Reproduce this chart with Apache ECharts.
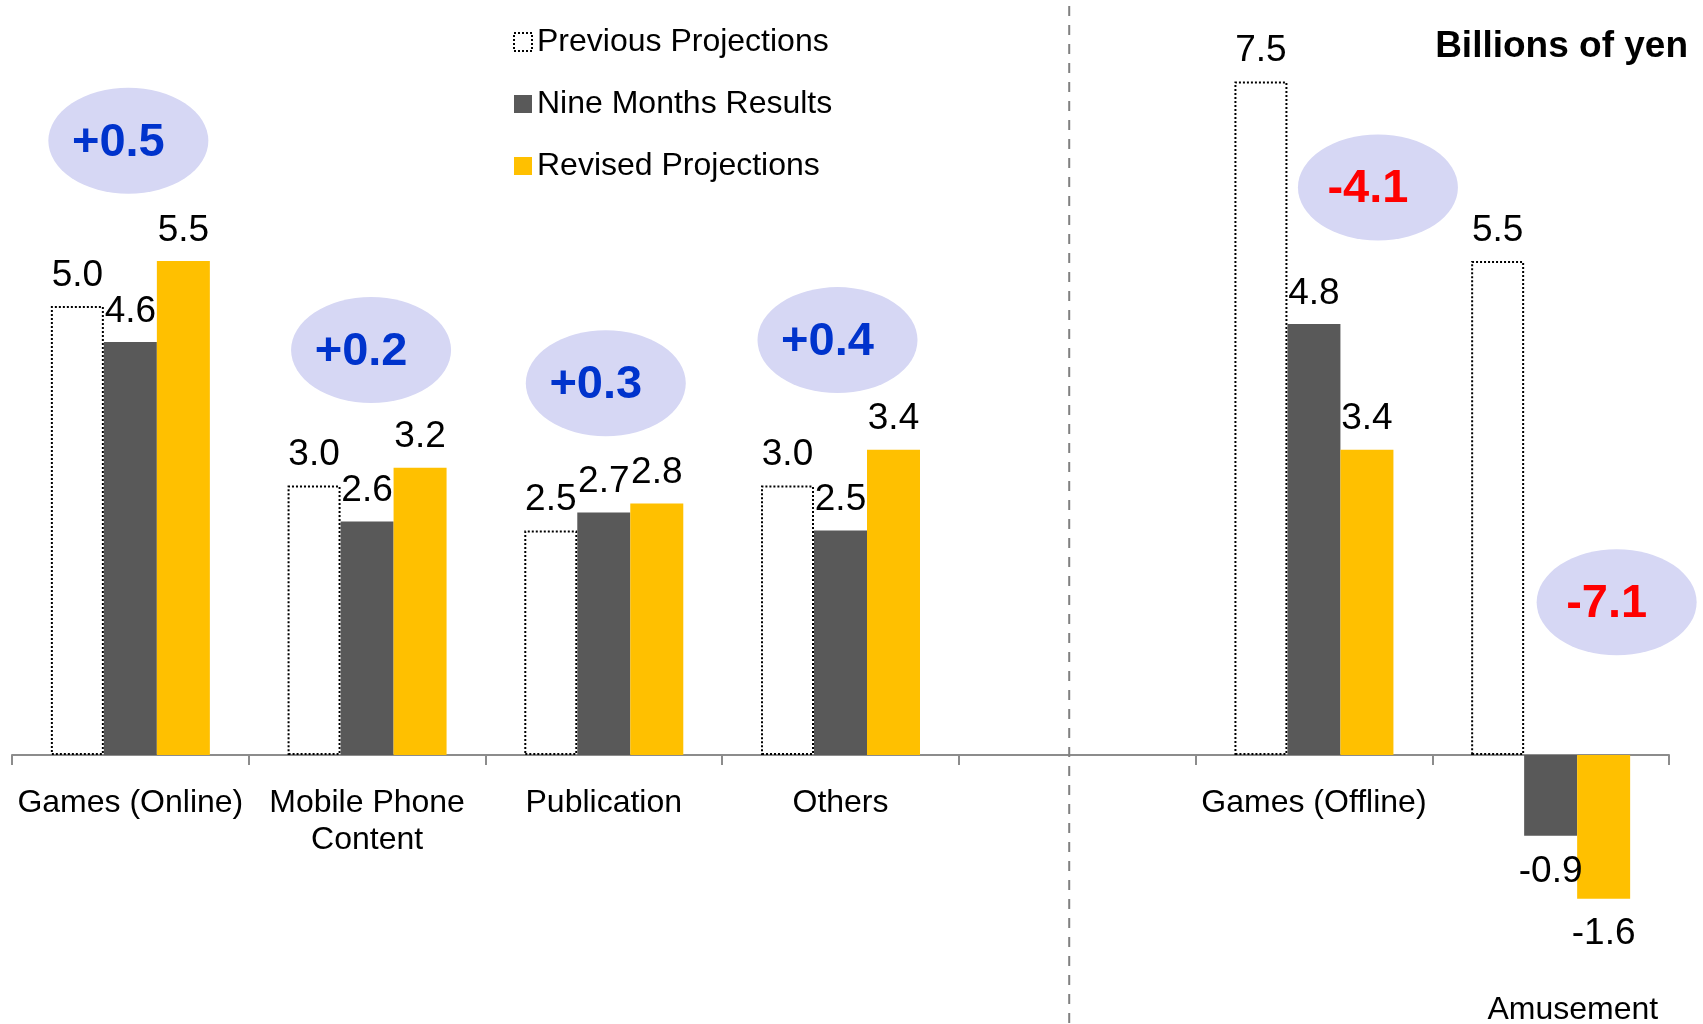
<!DOCTYPE html>
<html>
<head>
<meta charset="utf-8">
<script src="https://cdn.jsdelivr.net/npm/echarts@6/dist/echarts.min.js"></script>
<style>
  html, body { margin: 0; padding: 0; background: #fff; }
  #main { width: 1703px; height: 1024px; }
</style>
</head>
<body>
<div id="main"></div>
<script>
var categories = ['Games (Online)', 'Mobile Phone\nContent', 'Publication', 'Others', '', 'Games (Offline)', 'Amusement'];
var previous = [5.0, 3.0, 2.5, 3.0, null, 7.5, 5.5];
var nineMonths = [4.6, 2.6, 2.7, 2.5, null, 4.8, -0.9];
var revised = [5.5, 3.2, 2.8, 3.4, null, 3.4, -1.6];
var changes = [0.5, 0.2, 0.3, 0.4, null, -4.1, -7.1];

// where the change bubbles sit: [pixel shift, y in axis units]
var bubbleAt = [[-2, 6.84], [4, 4.51], [2, 4.14], [-3, 4.62], null, [64, 6.32], [66, 1.70]];

// the label that hangs below the negative bars
var lowLabel = 'Amusement';

var font = "'Liberation Sans', Arial, sans-serif";
var chart = echarts.init(document.getElementById('main'));

var bubbles = [];
changes.forEach(function (c, i) {
  if (c === null) return;
  bubbles.push({
    value: [i, bubbleAt[i][1], c],
    symbolOffset: [bubbleAt[i][0], 0],
    label: { color: c > 0 ? '#0033cc' : '#ff0000' }
  });
});

// negative bars get their label a little further below
function barData(arr) {
  return arr.map(function (v) {
    if (v !== null && v < 0) return { value: v, label: { distance: 17 } };
    return v;
  });
}

function barLabel() {
  return {
    show: true,
    position: 'outside',
    distance: 12,
    fontSize: 37,
    fontFamily: font,
    color: '#000',
    formatter: function (p) { return p.value == null ? '' : p.value.toFixed(1); }
  };
}

var labelText = { fontSize: 32, lineHeight: 37, color: '#000', fontFamily: font };

var option = {
  animation: false,
  textStyle: { fontFamily: font },
  title: {
    text: 'Billions of yen',
    right: 10,
    top: 23,
    textStyle: { fontSize: 37, fontWeight: 'bold', color: '#000', fontFamily: font }
  },
  legend: {
    data: [
      { name: 'Previous Projections', itemStyle: { color: '#fff', borderColor: '#000', borderWidth: 2, borderType: 'dotted' } },
      { name: 'Nine Months Results' },
      { name: 'Revised Projections' }
    ],
    orient: 'vertical',
    left: 508,
    top: 21,
    itemWidth: 18,
    itemHeight: 18,
    itemGap: 30,
    itemTextGap: 8,
    icon: 'rect',
    textStyle: { fontSize: 32, color: '#000', fontFamily: font }
  },
  grid: { left: 12, right: 34, top: 36.6, bottom: 89.4, containLabel: false, outerBoundsMode: 'none' },
  xAxis: [
    {
      type: 'category',
      data: categories,
      axisLine: { onZero: true, lineStyle: { color: '#8c8c8c', width: 2 } },
      axisTick: { show: true, length: 10, lineStyle: { color: '#8c8c8c', width: 2 } },
      axisLabel: Object.assign({
        interval: 0,
        margin: -150,
        formatter: function (v) { return v === lowLabel ? '' : v; }
      }, labelText)
    },
    {
      // second, invisible axis carrying only the low label
      type: 'category',
      data: categories,
      position: 'bottom',
      axisLine: { show: false, onZero: false },
      axisTick: { show: false },
      axisLabel: Object.assign({
        interval: 0,
        margin: 57,
        formatter: function (v) { return v === lowLabel ? '     ' + v : ''; }
      }, labelText)
    }
  ],
  yAxis: {
    type: 'value',
    min: -2,
    max: 8,
    show: false,
    splitLine: { show: false }
  },
  series: [
    {
      name: 'Previous Projections',
      type: 'bar',
      data: barData(previous),
      barWidth: 53,
      barGap: '0%',
      itemStyle: { color: '#ffffff', borderColor: '#000', borderWidth: 2, borderType: 'dotted' },
      label: barLabel()
    },
    {
      name: 'Nine Months Results',
      type: 'bar',
      data: barData(nineMonths),
      barWidth: 53,
      itemStyle: { color: '#595959' },
      label: barLabel()
    },
    {
      name: 'Revised Projections',
      type: 'bar',
      data: barData(revised),
      barWidth: 53,
      itemStyle: { color: '#ffc000' },
      label: barLabel()
    },
    {
      name: 'change',
      type: 'scatter',
      data: bubbles,
      clip: false,
      symbol: 'circle',
      symbolSize: [160, 106],
      itemStyle: { color: '#d6d7f4', opacity: 1 },
      label: {
        show: true,
        position: 'inside',
        offset: [-10, 2],
        fontSize: 47,
        fontWeight: 'bold',
        fontFamily: font,
        formatter: function (p) {
          var c = p.value[2];
          return (c > 0 ? '+' : '') + c.toFixed(1);
        }
      },
      emphasis: { disabled: true },
      z: 3
    }
  ]
};

chart.setOption(option);

// dashed divider between the two groups
var divX = chart.convertToPixel({ xAxisIndex: 0 }, 4) - 8;
chart.setOption({
  graphic: [{
    type: 'line',
    shape: { x1: divX, y1: 6, x2: divX, y2: 1024 },
    style: { stroke: '#808080', lineWidth: 2, lineDash: [10, 9] },
    z: 1
  }]
});
</script>
</body>
</html>
